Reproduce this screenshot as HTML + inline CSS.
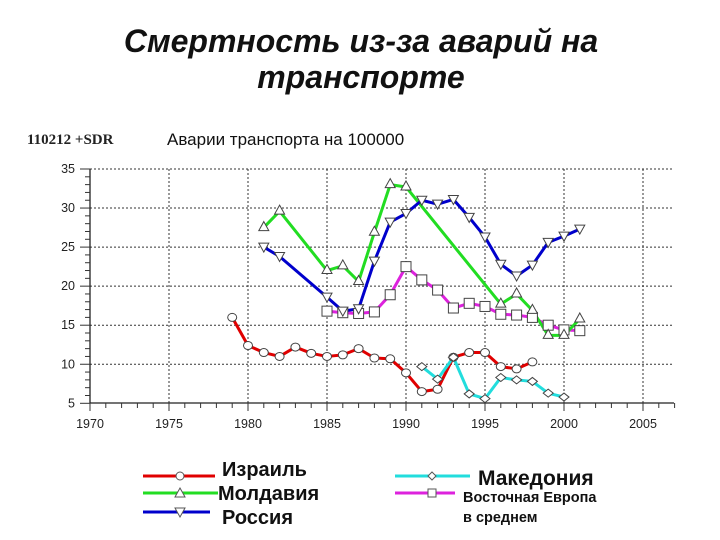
<!DOCTYPE html>
<html><head><meta charset="utf-8"><style>
body{margin:0;background:#fff;width:720px;height:540px;overflow:hidden}
svg{display:block}
</style></head><body>
<svg id="s" width="720" height="540" xmlns="http://www.w3.org/2000/svg" font-family="Liberation Sans, Arial, sans-serif">
<text x="361" y="52" text-anchor="middle" font-size="32" font-weight="bold" font-style="italic" fill="#111">Смертность из-за аварий на</text>
<text x="361" y="88" text-anchor="middle" font-size="32" font-weight="bold" font-style="italic" fill="#111">транспорте</text>
<text x="27" y="144" font-family="Liberation Serif, serif" font-size="15" font-weight="bold" fill="#222">110212 +SDR</text>
<text x="167" y="145" font-size="17" fill="#111">Аварии транспорта  на 100000</text>
<g id="g"></g>
<g font-weight="bold" fill="#111">
<line x1="143" y1="476" x2="215" y2="476" stroke="#e00000" stroke-width="3"/>
<circle cx="180" cy="476" r="4" fill="#fff" stroke="#555"/>
<text x="222" y="476" font-size="20">Израиль</text>
<line x1="143" y1="493" x2="218" y2="493" stroke="#22dd22" stroke-width="3"/>
<polygon points="180,488 185,497 175,497" fill="#fff" stroke="#555"/>
<text x="218" y="500" font-size="20">Молдавия</text>
<line x1="143" y1="512" x2="210" y2="512" stroke="#0000cc" stroke-width="3"/>
<polygon points="175,508 185,508 180,517" fill="#fff" stroke="#555"/>
<text x="222" y="524" font-size="20">Россия</text>
<line x1="395" y1="476" x2="470" y2="476" stroke="#22dddd" stroke-width="3"/>
<polygon points="432,472 436,476 432,480 428,476" fill="#fff" stroke="#555"/>
<text x="478" y="485" font-size="21">Македония</text>
<line x1="395" y1="493" x2="455" y2="493" stroke="#dd22dd" stroke-width="3"/>
<rect x="428" y="489" width="8" height="8" fill="#fff" stroke="#555"/>
<text x="463" y="502" font-size="14.5">Восточная Европа</text>
<text x="463" y="522" font-size="14.5">в среднем</text>
</g>
</svg>
<script>
const X=y=>90+15.8*(y-1970), Y=v=>169+(35-v)*7.81;
let h='';
for(let y=1975;y<=2005;y+=5)h+=`<line x1="${X(y)}" y1="169" x2="${X(y)}" y2="403" stroke="#333" stroke-dasharray="2,2" stroke-width="1"/>`;
for(let v=10;v<=35;v+=5)h+=`<line x1="90" y1="${Y(v)}" x2="674" y2="${Y(v)}" stroke="#333" stroke-dasharray="2,2" stroke-width="1"/>`;
h+=`<line x1="90" y1="169" x2="90" y2="403" stroke="#222" stroke-width="1.3"/><line x1="90" y1="403" x2="674" y2="403" stroke="#222" stroke-width="1.3"/>`;
for(let v=5;v<=35;v++)h+=`<line x1="${v%5?85:80}" y1="${Y(v)}" x2="90" y2="${Y(v)}" stroke="#333"/>`;
for(let v=5;v<=35;v+=5)h+=`<text x="75" y="${Y(v)+4}" text-anchor="end" font-size="12.5" fill="#222">${v}</text>`;
for(let y=1970;y<=2007;y++)h+=`<line x1="${X(y)}" y1="403" x2="${X(y)}" y2="${y%5?408:411}" stroke="#333"/>`;
for(let y=1970;y<=2005;y+=5)h+=`<text x="${X(y)}" y="428" text-anchor="middle" font-size="12.5" fill="#222">${y}</text>`;
const S=[
['#e00000','c',1979,[16,12.4,11.5,11,12.2,11.4,11,11.2,12,10.8,10.7,8.9,6.5,6.8,10.9,11.5,11.5,9.7,9.4,10.3]],
['#22dddd','d',1991,[9.7,8.1,10.9,6.2,5.6,8.3,8.0,7.8,6.3,5.8]],
['#dd22dd','s',1985,[16.8,16.6,16.5,16.7,18.9,22.5,20.8,19.5,17.2,17.8,17.4,16.4,16.3,16.0,15.0,14.4,14.3]],
['#22dd22','t',0,[[1981,27.5],[1982,29.6],[1985,22],[1986,22.6],[1987,20.6],[1988,26.9],[1989,33],[1990,32.7],[1996,17.7],[1997,19],[1998,16.9],[1999,13.7],[2000,13.7],[2001,15.8]]],
['#0000cc','v',0,[[1981,25],[1982,23.8],[1985,18.6],[1986,16.8],[1987,17.1],[1988,23.2],[1989,28.2],[1990,29.3],[1991,31],[1992,30.5],[1993,31.1],[1994,28.8],[1995,26.3],[1996,22.8],[1997,21.3],[1998,22.7],[1999,25.6],[2000,26.4],[2001,27.3]]]
];
let m='';
for(const [c,k,st,d] of S){
 const pts=st?d.map((v,i)=>[st+i,v]):d;
 h+=`<polyline fill="none" stroke="${c}" stroke-width="3" stroke-linejoin="round" points="${pts.map(p=>X(p[0])+','+Y(p[1])).join(' ')}"/>`;
 for(const p of pts){const x=X(p[0]),y=Y(p[1]);
  if(k=='c')m+=`<ellipse cx="${x}" cy="${y}" rx="4.5" ry="4" fill="#fff" stroke="#444"/>`;
  if(k=='d')m+=`<polygon points="${x},${y-4} ${x+5},${y} ${x},${y+4} ${x-5},${y}" fill="#fff" stroke="#444"/>`;
  if(k=='s')m+=`<rect x="${x-5}" y="${y-5}" width="10" height="10" fill="#fff" stroke="#444"/>`;
  if(k=='t')m+=`<polygon points="${x},${y-6} ${x+5},${y+3} ${x-5},${y+3}" fill="#fff" stroke="#444"/>`;
  if(k=='v')m+=`<polygon points="${x-5},${y-4} ${x+5},${y-4} ${x},${y+5}" fill="#fff" stroke="#444"/>`;
 }}
document.getElementById('g').innerHTML=h+m;
</script>
</body></html>
